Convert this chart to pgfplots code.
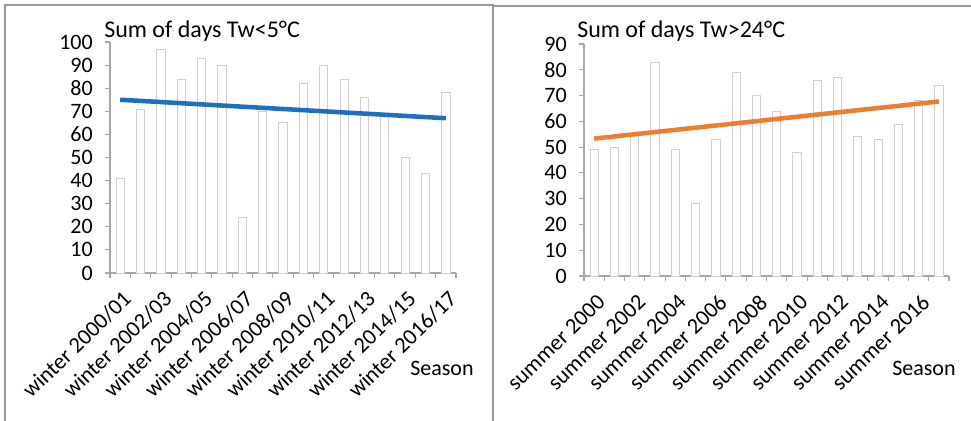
\documentclass[border=0pt]{standalone}
\usepackage{pgfplots}
\pgfplotsset{compat=1.18}
\usepackage{fontspec}
\setmainfont{Carlito}
\definecolor{axgray}{HTML}{A6A6A6}
\definecolor{bargray}{HTML}{D0D0D0}
\definecolor{frame}{HTML}{9A9A9A}
\definecolor{tblue}{HTML}{1F6EBF}
\definecolor{torange}{HTML}{ED7D31}
\begin{document}
\begin{tikzpicture}[x=0.75pt,y=0.75pt]
\useasboundingbox (0,0) rectangle (971,421);
\draw[frame, line width=1.1pt] (5,0) -- (5,416) -- (493,416) -- (493,0);
\draw[frame, line width=1.1pt] (493,415) -- (971,415);
\pgfplotsset{
  myaxis/.style={
    scale only axis,
    axis x line*=bottom, axis y line*=left,
    axis line style={axgray, line width=0.8pt},
    tick style={axgray, line width=0.8pt},
    tick align=outside, major tick length=3.75pt,
    ymin=0,
    ytick distance=10,
    /pgf/number format/assume math mode=true,
    yticklabel style={font=\fontsize{16.5}{19}\selectfont, inner sep=1pt, xshift=-8pt},
    xticklabels={},
    extra tick style={major tick length=0pt},
    extra x tick style={tick label style={font=\fontsize{16.8}{19}\selectfont, anchor=east, inner sep=0pt, xshift=5.5pt, yshift=-17pt, rotate=44}},
    clip=false,
  }
}
% Left panel
\begin{axis}[myaxis, at={(82.5pt,111pt)}, anchor=south west,
  width=259.5pt, height=173.25pt,
  xmin=-0.5, xmax=16.5, ymax=100,
  xtick={-0.5,0.5,...,16.5},
  extra x ticks={0,2,...,16},
  extra x tick labels={winter 2000/01,winter 2002/03,winter 2004/05,winter 2006/07,winter 2008/09,winter 2010/11,winter 2012/13,winter 2014/15,winter 2016/17},
]
\addplot[ybar, bar width=6.2pt, draw=bargray, fill=white, line width=0.6pt] coordinates {
(0,41) (1,71) (2,97) (3,84) (4,93) (5,90) (6,24) (7,70) (8,65) (9,82) (10,90) (11,84) (12,76) (13,68) (14,50) (15,43) (16,78)};
\addplot[tblue, line width=3.4pt, no marks] coordinates {(0,75) (16,67)};
\end{axis}
% Right panel
\begin{axis}[myaxis, at={(438pt,108.75pt)}, anchor=south west,
  width=273.75pt, height=174pt,
  xmin=-0.5, xmax=17.5, ymax=90,
  xtick={-0.5,0.5,...,17.5},
  extra x ticks={0,2,...,16},
  extra x tick labels={summer 2000,summer 2002,summer 2004,summer 2006,summer 2008,summer 2010,summer 2012,summer 2014,summer 2016},
]
\addplot[ybar, bar width=6.2pt, draw=bargray, fill=white, line width=0.6pt] coordinates {
(0,49) (1,50) (2,55) (3,83) (4,49) (5,28) (6,53) (7,79) (8,70) (9,64) (10,48) (11,76) (12,77) (13,54) (14,53) (15,59) (16,68) (17,74)};
\addplot[torange, line width=3.4pt, no marks] coordinates {(0,53.3) (17,67.7)};
\end{axis}
\node[anchor=west, font=\fontsize{18}{21}\selectfont, inner sep=0pt] at (104,390) {Sum of days Tw<5°C};
\node[anchor=west, font=\fontsize{18}{21}\selectfont, inner sep=0pt] at (577,390) {Sum of days Tw>24°C};
\node[anchor=west, font=\fontsize{16.5}{19}\selectfont, inner sep=0pt] at (410,53) {Season};
\node[anchor=west, font=\fontsize{16.5}{19}\selectfont, inner sep=0pt] at (892,53) {Season};
\end{tikzpicture}
\end{document}
